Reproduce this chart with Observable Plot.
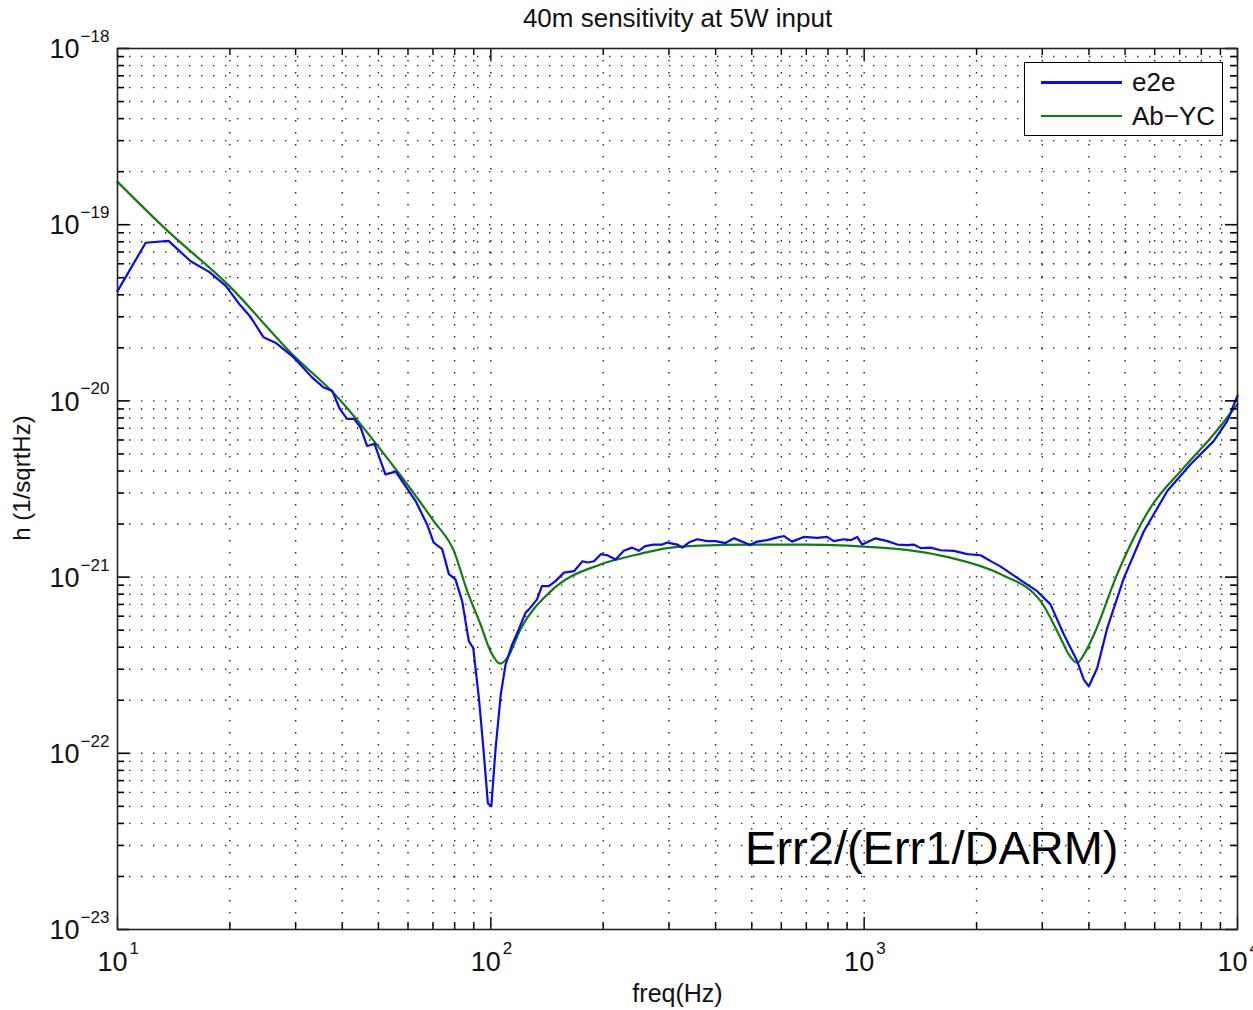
<!DOCTYPE html>
<html><head><meta charset="utf-8">
<script src="https://cdn.jsdelivr.net/npm/d3@7"></script>
<script src="https://cdn.jsdelivr.net/npm/@observablehq/plot@0.6"></script>
<style>
body{margin:0;background:#fff;font-family:"Liberation Sans",Arial,Helvetica,sans-serif;}
#wrap{position:relative;width:1253px;height:1010px;overflow:hidden;}
#legend{position:absolute;left:1024px;top:62px;width:197px;height:72px;border:1.4px solid #000;background:#fff;}
.lrow{position:absolute;left:0;height:30px;width:197px;}
.lline{position:absolute;left:16px;top:14px;width:81px;height:0;}
.ltext{position:absolute;left:107px;top:0;font-size:26px;line-height:30px;color:#111;}
</style></head><body><div id="wrap"></div>
<script>
// ---- data ----
const titleText = "40m sensitivity at 5W input";
const xLabel = "freq(Hz)";
const yLabel = "h (1/sqrtHz)";
const annotation = "Err2/(Err1/DARM)";
const seriesNames = ["e2e", "Ab\u2212YC"];
const seriesColors = ["#0a0af0", "#117d11"];

const freqE2E = [10, 11.9, 13.7, 15.7, 17.6, 19.5, 21.3, 22.7, 24.6, 26.5, 29.7, 33.2, 35.7, 37.6, 39.4, 41.2, 43.0, 44.8, 46.6, 48.8, 52.2, 55.6, 62.9, 67.5, 70.3, 74.1, 77.2, 80.4, 83.8, 87.3, 89.7, 92.9, 95.5, 98.2, 100.3, 103, 106.3, 109.5, 114, 118.8, 123.8, 126.5, 133, 137, 143, 149, 157, 167, 176, 182, 189, 197, 205, 216, 227, 239, 249, 259, 273, 288, 297, 316, 326, 339, 357, 380, 400, 425, 448, 471, 494, 517, 550, 579, 610, 641, 689, 748, 796, 829, 882, 920, 958, 988, 1073, 1154, 1227, 1304, 1358, 1416, 1506, 1602, 1739, 1888, 2051, 2200, 2317, 2570, 2906, 3155, 3427, 3722, 3875, 3998, 4210, 4480, 4963, 5613, 6485, 7487, 8642, 9392, 10000];
const hE2E = [4.2e-20, 7.9e-20, 8.1e-20, 6.2e-20, 5.4e-20, 4.5e-20, 3.5e-20, 3.0e-20, 2.3e-20, 2.14e-20, 1.76e-20, 1.36e-20, 1.19e-20, 1.14e-20, 9.0e-21, 7.9e-21, 7.9e-21, 7.05e-21, 5.55e-21, 5.7e-21, 3.83e-21, 3.97e-21, 2.7e-21, 1.99e-21, 1.57e-21, 1.44e-21, 1.04e-21, 9.7e-22, 7.3e-22, 4.33e-22, 3.97e-22, 2.06e-22, 1.07e-22, 5.2e-23, 5.0e-23, 1.07e-22, 2.15e-22, 3.19e-22, 4.14e-22, 5.05e-22, 6.27e-22, 6.56e-22, 7.47e-22, 8.89e-22, 8.89e-22, 9.49e-22, 1.06e-21, 1.08e-21, 1.23e-21, 1.21e-21, 1.23e-21, 1.35e-21, 1.33e-21, 1.26e-21, 1.41e-21, 1.47e-21, 1.41e-21, 1.50e-21, 1.53e-21, 1.53e-21, 1.57e-21, 1.53e-21, 1.47e-21, 1.57e-21, 1.64e-21, 1.60e-21, 1.60e-21, 1.56e-21, 1.66e-21, 1.59e-21, 1.52e-21, 1.59e-21, 1.62e-21, 1.67e-21, 1.71e-21, 1.59e-21, 1.69e-21, 1.67e-21, 1.69e-21, 1.60e-21, 1.64e-21, 1.62e-21, 1.69e-21, 1.53e-21, 1.66e-21, 1.60e-21, 1.53e-21, 1.52e-21, 1.53e-21, 1.46e-21, 1.47e-21, 1.42e-21, 1.41e-21, 1.35e-21, 1.33e-21, 1.22e-21, 1.15e-21, 9.9e-22, 8.32e-22, 7.0e-22, 4.72e-22, 3.33e-22, 2.62e-22, 2.40e-22, 3.05e-22, 5.15e-22, 9.9e-22, 1.82e-21, 3.08e-21, 4.37e-21, 5.93e-21, 7.7e-21, 1.07e-20];

const freqABYC = [10, 13.6, 19.7, 30, 37.9, 56.1, 70.3, 79.6, 86.5, 93.8, 99.8, 106, 110.7, 120, 144.6, 196.6, 242, 268, 297, 365, 494, 689, 901, 1106, 1358, 1702, 2317, 2969, 3360, 3532, 3722, 3880, 4125, 4762, 5848, 7180, 8642, 10000];
const hABYC = [1.75e-19, 9.25e-20, 4.6e-20, 1.76e-20, 1.11e-20, 4.0e-21, 2.08e-21, 1.41e-21, 8.3e-22, 5.4e-22, 3.8e-22, 3.23e-22, 3.48e-22, 5.05e-22, 8.3e-22, 1.18e-21, 1.33e-21, 1.40e-21, 1.46e-21, 1.51e-21, 1.53e-21, 1.53e-21, 1.51e-21, 1.47e-21, 1.41e-21, 1.29e-21, 1.04e-21, 7.3e-22, 4.5e-22, 3.64e-22, 3.26e-22, 3.64e-22, 4.72e-22, 1.04e-21, 2.48e-21, 4.18e-21, 6.47e-21, 9.57e-21];

const xMajor = [10, 100, 1000, 10000];
const xExponents = ["1", "2", "3", "4"];
const yMajor = [1e-23, 1e-22, 1e-21, 1e-20, 1e-19, 1e-18];
const yExponents = ["\u221223", "\u221222", "\u221221", "\u221220", "\u221219", "\u221218"];
const minorMultipliers = [2, 3, 4, 5, 6, 7, 8, 9];

// ---- build tables ----
const e2e = freqE2E.map((f, i) => ({f, h: hE2E[i]}));
const abyc = freqABYC.map((f, i) => ({f, h: hABYC[i]}));
const xMinor = xMajor.slice(0, -1).flatMap(d => minorMultipliers.map(m => d * m));
const yMinor = yMajor.slice(0, -1).flatMap(d => minorMultipliers.map(m => +(d * m).toPrecision(3)));
const xLabels = xMajor.map((v, i) => ({v, e: xExponents[i]}));
const yLabels = yMajor.map((v, i) => ({v, e: yExponents[i]}));

const W = 1253, H = 1010;
const mL = 117, mR = 16, mT = 48, mB = 81;
const fw = W - mL - mR, fh = H - mT - mB;
const font = "Liberation Sans, Arial, Helvetica, sans-serif";
const dots = {stroke: "#000", strokeOpacity: 0.85, strokeWidth: 1.4, strokeDasharray: "1.4,10.6"};
const majorLen = 12, minorLen = 7;
const txt = {lineAnchor: "middle", fill: "#111"};

const chart = Plot.plot({
  width: W, height: H,
  marginLeft: mL, marginRight: mR, marginTop: mT, marginBottom: mB,
  style: {fontFamily: font, background: "#fff", color: "#111"},
  x: {type: "log", domain: [10, 10000], axis: null},
  y: {type: "log", domain: [1e-23, 1e-18], axis: null},
  marks: [
    // dotted grid
    Plot.ruleX([...xMinor, 100, 1000], {x: d => d, ...dots}),
    Plot.ruleY([...yMinor, 1e-22, 1e-21, 1e-20, 1e-19], {y: d => d, ...dots}),
    // data
    Plot.line(abyc, {x: "f", y: "h", stroke: seriesColors[1], strokeWidth: 2.2, curve: "monotone-x"}),
    Plot.line(e2e, {x: "f", y: "h", stroke: seriesColors[0], strokeWidth: 2.2}),
    // inner tick marks
    Plot.ruleX(xMajor, {x: d => d, insetTop: fh - majorLen, stroke: "#000", strokeWidth: 1.4}),
    Plot.ruleX(xMinor, {x: d => d, insetTop: fh - minorLen, stroke: "#000", strokeWidth: 1.4}),
    Plot.ruleX(xMajor, {x: d => d, insetBottom: fh - majorLen, stroke: "#000", strokeWidth: 1.4}),
    Plot.ruleX(xMinor, {x: d => d, insetBottom: fh - minorLen, stroke: "#000", strokeWidth: 1.4}),
    Plot.ruleY(yMajor, {y: d => d, insetRight: fw - majorLen, stroke: "#000", strokeWidth: 1.6}),
    Plot.ruleY(yMinor, {y: d => d, insetRight: fw - minorLen, stroke: "#000", strokeWidth: 1.6}),
    Plot.ruleY(yMajor, {y: d => d, insetLeft: fw - majorLen, stroke: "#000", strokeWidth: 1.6}),
    Plot.ruleY(yMinor, {y: d => d, insetLeft: fw - minorLen, stroke: "#000", strokeWidth: 1.6}),
    Plot.frame({stroke: "#222", strokeWidth: 1.6}),
    // x tick labels
    Plot.text(xLabels, {x: "v", frameAnchor: "bottom", text: () => "10", textAnchor: "end", dx: 10, dy: 33, fontSize: 27, ...txt}),
    Plot.text(xLabels, {x: "v", frameAnchor: "bottom", text: "e", textAnchor: "start", dx: 12, dy: 19, fontSize: 17, ...txt}),
    // y tick labels
    Plot.text(yLabels, {y: "v", frameAnchor: "left", text: () => "10", textAnchor: "end", dx: -38, dy: 1, fontSize: 27, ...txt}),
    Plot.text(yLabels, {y: "v", frameAnchor: "left", text: "e", textAnchor: "start", dx: -37, dy: -12, fontSize: 17, ...txt}),
    // titles
    Plot.text([titleText], {frameAnchor: "top", text: d => d, textAnchor: "middle", dy: -30, fontSize: 26, ...txt}),
    Plot.text([xLabel], {frameAnchor: "bottom", text: d => d, textAnchor: "middle", dy: 64, fontSize: 25, ...txt}),
    Plot.text([yLabel], {frameAnchor: "left", text: d => d, textAnchor: "middle", rotate: -90, dx: -95, dy: -11, fontSize: 24, ...txt}),
    Plot.text([annotation], {frameAnchor: "bottom-right", text: d => d, textAnchor: "end", dx: -119, dy: -81, fontSize: 47, lineAnchor: "middle", fill: "#000"})
  ]
});

const wrap = document.getElementById("wrap");
wrap.appendChild(chart);

// legend
const legend = document.createElement("div");
legend.id = "legend";
seriesNames.forEach((name, i) => {
  const row = document.createElement("div");
  row.className = "lrow";
  row.style.top = (i === 0 ? 4 : 38) + "px";
  const ln = document.createElement("div");
  ln.className = "lline";
  ln.style.borderTop = (i === 0 ? 3 : 2) + "px solid " + seriesColors[i];
  const tx = document.createElement("div");
  tx.className = "ltext";
  tx.textContent = name;
  row.appendChild(ln); row.appendChild(tx);
  legend.appendChild(row);
});
wrap.appendChild(legend);
</script></body></html>
